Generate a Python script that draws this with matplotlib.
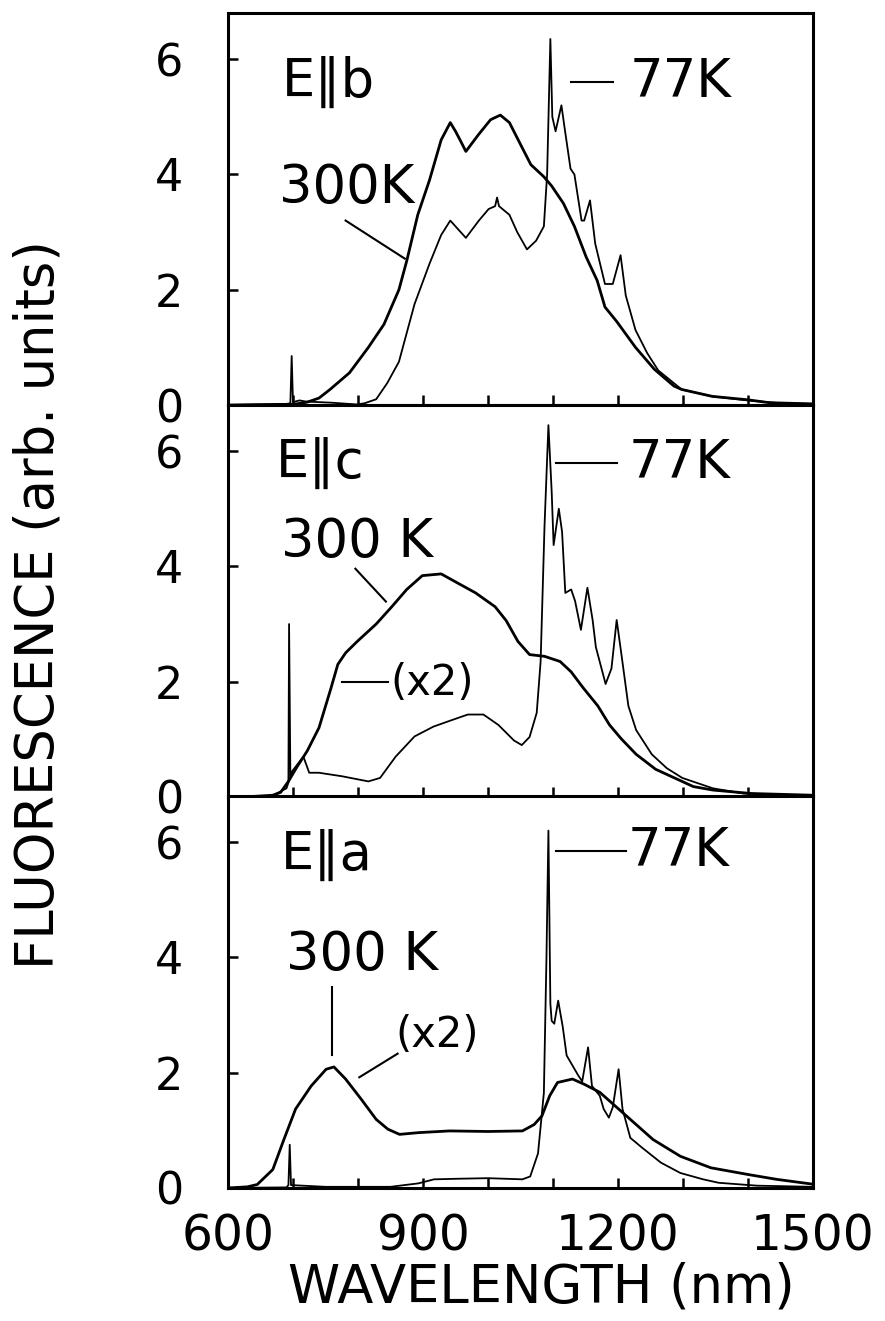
import numpy as np
import matplotlib.pyplot as plt

plt.rcParams['font.family'] = ['DejaVu Sans']

# ---- E || b (top panel) ----
b300_nm = [600, 700, 722, 740, 757, 787, 816, 840, 863, 875, 892, 910, 928, 942, 950, 957,
           966, 976, 986, 1004, 1019, 1033, 1051, 1066, 1086, 1098, 1116, 1133, 1151, 1168,
           1180, 1198, 1227, 1256, 1286, 1298, 1345, 1400, 1433, 1497, 1500]
b300_val = [0.0, 0.01, 0.05, 0.12, 0.27, 0.56, 1.0, 1.4, 2.0, 2.5, 3.3, 3.9, 4.6, 4.9, 4.75, 4.6,
            4.4, 4.55, 4.7, 4.95, 5.03, 4.9, 4.5, 4.17, 3.96, 3.8, 3.5, 3.1, 2.57, 2.16,
            1.7, 1.45, 1.0, 0.62, 0.33, 0.27, 0.15, 0.09, 0.04, 0.02, 0.02]
b77_nm = [600, 690, 696, 698, 700, 710, 720, 740, 760, 798, 810, 828, 845, 863, 887, 910, 928,
          942, 954, 966, 986, 1001, 1011, 1014, 1017, 1033, 1045, 1060, 1074, 1086, 1091, 1096,
          1099, 1104, 1113, 1118, 1127, 1133, 1144, 1148, 1157, 1165, 1180, 1192, 1204, 1212,
          1227, 1245, 1262, 1298, 1345, 1400, 1450, 1500]
b77_val = [0.0, 0.02, 0.03, 0.85, 0.05, 0.08, 0.06, 0.05, 0.04, 0.01, 0.03, 0.1, 0.38, 0.75, 1.75,
           2.45, 2.95, 3.2, 3.05, 2.9, 3.2, 3.4, 3.45, 3.6, 3.45, 3.3, 3.0, 2.7, 2.85, 3.1, 4.0,
           6.35, 5.0, 4.75, 5.2, 4.8, 4.1, 4.0, 3.2, 3.2, 3.55, 2.8, 2.1, 2.1, 2.6, 1.9,
           1.3, 0.9, 0.6, 0.27, 0.15, 0.08, 0.03, 0.02]

# ---- E || c (middle panel) ----
c300_nm = [600, 640, 669, 681, 693, 705, 722, 740, 758, 769, 781, 799, 828, 852, 875, 899, 928,
           952, 981, 1011, 1028, 1046, 1064, 1087, 1111, 1128, 1146, 1169, 1187, 1205, 1228,
           1258, 1287, 1316, 1346, 1405, 1500]
c300_val = [0.0, 0.01, 0.03, 0.08, 0.27, 0.5, 0.8, 1.2, 1.87, 2.3, 2.5, 2.7, 3.0, 3.3, 3.6, 3.84,
            3.87, 3.72, 3.54, 3.3, 3.06, 2.7, 2.47, 2.44, 2.35, 2.17, 1.9, 1.58, 1.25, 1.01,
            0.74, 0.48, 0.33, 0.18, 0.12, 0.06, 0.03]
c77_nm = [600, 669, 675, 690, 693, 694, 696, 699, 716, 725, 740, 775, 816, 834, 858, 887, 916,
          946, 969, 993, 1016, 1040, 1052, 1064, 1075, 1081, 1087, 1093, 1098, 1101, 1109, 1114,
          1119, 1128, 1134, 1143, 1153, 1161, 1166, 1181, 1190, 1198, 1205, 1216, 1228, 1252,
          1275, 1299, 1346, 1393, 1500]
c77_val = [0.0, 0.02, 0.06, 0.15, 0.25, 3.0, 0.35, 0.45, 0.7, 0.42, 0.42, 0.36, 0.27, 0.33, 0.7,
           1.05, 1.22, 1.34, 1.43, 1.43, 1.25, 0.98, 0.9, 1.04, 1.46, 2.35, 4.7, 6.45, 5.3, 4.37,
           5.0, 4.6, 3.54, 3.6, 3.4, 2.9, 3.63, 3.07, 2.6, 1.96, 2.23, 3.07, 2.5, 1.58, 1.16,
           0.74, 0.5, 0.33, 0.15, 0.06, 0.02]

# ---- E || a (bottom panel) ----
a300_nm = [600, 630, 645, 669, 686, 704, 728, 751, 763, 781, 805, 828, 846, 864, 893, 941, 1000,
           1053, 1071, 1083, 1095, 1107, 1130, 1148, 1172, 1201, 1225, 1254, 1296, 1343, 1402,
           1444, 1497]
a300_val = [0.0, 0.02, 0.06, 0.32, 0.84, 1.37, 1.77, 2.06, 2.1, 1.89, 1.54, 1.19, 1.02, 0.93,
            0.96, 0.99, 0.98, 0.99, 1.1, 1.25, 1.6, 1.83, 1.89, 1.8, 1.66, 1.37, 1.13, 0.84,
            0.55, 0.35, 0.23, 0.15, 0.07]
a77_nm = [600, 690, 693, 695, 697, 750, 850, 893, 917, 953, 1000, 1053, 1065, 1077, 1086, 1090,
          1093, 1096, 1098, 1102, 1108, 1115, 1121, 1139, 1145, 1154, 1160, 1172, 1178, 1186,
          1192, 1201, 1207, 1219, 1237, 1266, 1296, 1331, 1355, 1414, 1500]
a77_val = [0.0, 0.01, 0.05, 0.75, 0.05, 0.02, 0.02, 0.08, 0.15, 0.16, 0.17, 0.15, 0.2, 0.6, 1.65,
           4.0, 6.2, 3.2, 2.9, 2.85, 3.25, 2.8, 2.3, 1.95, 1.85, 2.44, 1.77, 1.6, 1.37, 1.22,
           1.4, 2.06, 1.37, 0.87, 0.7, 0.44, 0.26, 0.15, 0.09, 0.04, 0.02]

panel_names = ['E\u2225b', 'E\u2225c', 'E\u2225a']
y_ticks = [0, 2, 4, 6]
x_ticks = list(range(600, 1501, 100))
x_labels = ['600', '', '', '900', '', '', '1200', '', '', '1500']

fig = plt.figure(figsize=(8.85, 13.21), dpi=100)
left, width = 0.2576, 0.661
bottoms = [0.6934, 0.3967, 0.1007]
h = 0.2967
axes = [fig.add_axes([left, b, width, h]) for b in bottoms]

series = [(b300_nm, b300_val, b77_nm, b77_val),
          (c300_nm, c300_val, c77_nm, c77_val),
          (a300_nm, a300_val, a77_nm, a77_val)]

for i, ax in enumerate(axes):
    x3, y3, x7, y7 = series[i]
    ax.plot(x3, y3, color='black', lw=2.0)
    ax.plot(x7, y7, color='black', lw=1.3)
    ax.set_xlim(600, 1500)
    ax.set_ylim(0, 6.8)
    for s in ax.spines.values():
        s.set_linewidth(2.2)
    ax.set_yticks(y_ticks)
    ax.set_yticklabels([str(t) for t in y_ticks])
    ax.set_xticks(x_ticks)
    if i == 2:
        ax.set_xticklabels(x_labels)
    else:
        ax.set_xticklabels([])
    ax.tick_params(axis='both', direction='in', length=7, width=1.8)
    ax.tick_params(axis='y', pad=32, labelsize=32)
    ax.tick_params(axis='x', pad=18, labelsize=35)

fs = 38
# top panel annotations
ax = axes[0]
ax.text(683, 5.6, panel_names[0], fontsize=fs, va='center', ha='left')
ax.plot([1127, 1192], [5.6, 5.6], color='black', lw=1.5)
ax.text(1218, 5.6, '77K', fontsize=fs, va='center', ha='left')
ax.text(678, 3.76, '300K', fontsize=fs, va='center', ha='left')
ax.plot([781, 872], [3.2, 2.54], color='black', lw=1.5)

# middle panel annotations
ax = axes[1]
ax.text(673, 5.8, panel_names[1], fontsize=fs, va='center', ha='left')
ax.plot([1105, 1199], [5.8, 5.8], color='black', lw=1.5)
ax.text(1216, 5.8, '77K', fontsize=fs, va='center', ha='left')
ax.text(681, 4.43, '300 K', fontsize=fs, va='center', ha='left')
ax.plot([796, 843], [3.96, 3.39], color='black', lw=1.5)
ax.plot([775, 846], [1.99, 1.99], color='black', lw=1.5)
ax.text(850, 1.97, '(x2)', fontsize=30, va='center', ha='left')

# bottom panel annotations
ax = axes[2]
ax.text(681, 5.78, panel_names[2], fontsize=fs, va='center', ha='left')
ax.plot([1104, 1213], [5.84, 5.84], color='black', lw=1.5)
ax.text(1215, 5.84, '77K', fontsize=fs, va='center', ha='left')
ax.text(689, 4.04, '300 K', fontsize=fs, va='center', ha='left')
ax.plot([760, 760], [3.49, 2.3], color='black', lw=1.5)
ax.plot([802, 861], [1.92, 2.33], color='black', lw=1.5)
ax.text(858, 2.65, '(x2)', fontsize=30, va='center', ha='left')

fig.text(0.043, 0.542, 'FLUORESCENCE (arb. units)', rotation=90, fontsize=38,
         ha='center', va='center')
fig.text(0.612, 0.025, 'WAVELENGTH (nm)', fontsize=38, ha='center', va='center')

fig.savefig('out.png', dpi=100)
